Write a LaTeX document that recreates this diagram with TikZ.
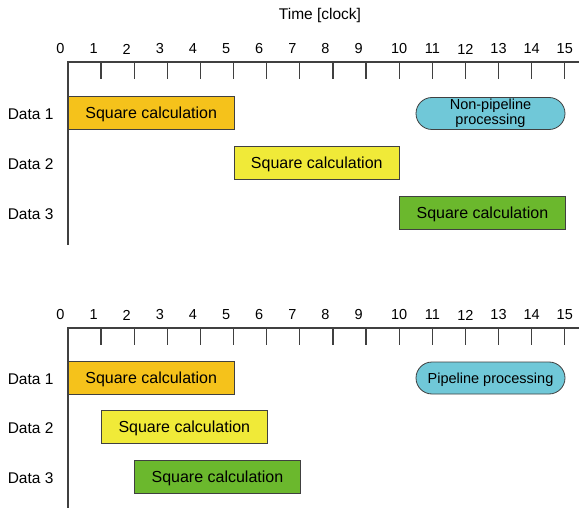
\documentclass[tikz,border=0pt]{standalone}
\usepackage{fontspec}
\setmainfont{Liberation Sans}
\begin{document}
\begin{tikzpicture}[x=1pt,y=-1pt,
  axis/.style={draw=black!75, line width=1.4pt},
  tickmark/.style={draw=black!75, line width=1.3pt},
  bar/.style={draw=black!75, line width=0.8pt, minimum width=165.6pt, minimum height=33pt,
    inner sep=0pt, anchor=west, text depth=0.5pt, font=\fontsize{16}{19}\selectfont},
  pill/.style={draw=black!75, line width=0.8pt, fill=pillcyan, rounded corners=16pt,
    minimum width=149pt, minimum height=32pt, inner sep=0pt, align=center,
    font=\fontsize{14.5}{15}\selectfont},
  rowlabel/.style={anchor=east, font=\fontsize{15.5}{18}\selectfont},
  numlabel/.style={font=\fontsize{14.5}{17}\selectfont},
]
\definecolor{barorange}{HTML}{F5C21B}
\definecolor{baryellow}{HTML}{F0EA38}
\definecolor{bargreen}{HTML}{6BB82D}
\definecolor{pillcyan}{HTML}{70C8D8}
\useasboundingbox[fill=white] (0,0) rectangle (579,508);

\pgfmathsetmacro{\ux}{33.12}

% time caption
\node[font=\fontsize{15.5}{18}\selectfont] (timecap) at (320,15) {Time [clock]};

% two time axes: top (non-pipeline) and bottom (pipeline)
\foreach \ay/\ybot/\nm in {62/245/a, 328/508/b} {
  \draw[axis] (579,\ay) -- (68,\ay) -- (68,\ybot);
  \foreach \i in {1,...,15} {
    \draw[tickmark] (68+\i*\ux,\ay) -- (68+\i*\ux,\ay+17);
  }
  \foreach \i in {0,...,9} {
    \node[numlabel] (\nm num\i) at (60.5+\i*\ux,\ay-13) {\i};
  }
  \foreach \i in {10,...,15} {
    \node[numlabel] (\nm num\i) at (68+\i*\ux,\ay-13) {\i};
  }
}

% non-pipeline schedule
\node[rowlabel] (ad1) at (57,114) {Data 1};
\node[rowlabel] (ad2) at (57,164) {Data 2};
\node[rowlabel] (ad3) at (57,214) {Data 3};
\node[bar, fill=barorange] (ab1) at (68,113) {Square calculation};
\node[bar, fill=baryellow] (ab2) at (68+5*\ux,163) {Square calculation};
\node[bar, fill=bargreen] (ab3) at (68+10*\ux,213) {Square calculation};
\node[pill] (apill) at (490.5,113.5) {Non-pipeline\\processing};

% pipeline schedule
\node[rowlabel] (bd1) at (57,379) {Data 1};
\node[rowlabel] (bd2) at (57,428) {Data 2};
\node[rowlabel] (bd3) at (57,478) {Data 3};
\node[bar, fill=barorange] (bb1) at (68,378) {Square calculation};
\node[bar, fill=baryellow] (bb2) at (68+\ux,427) {Square calculation};
\node[bar, fill=bargreen] (bb3) at (68+2*\ux,477) {Square calculation};
\node[pill, text depth=0.5pt] (bpill) at (490.5,378) {Pipeline processing};
\end{tikzpicture}
\end{document}
